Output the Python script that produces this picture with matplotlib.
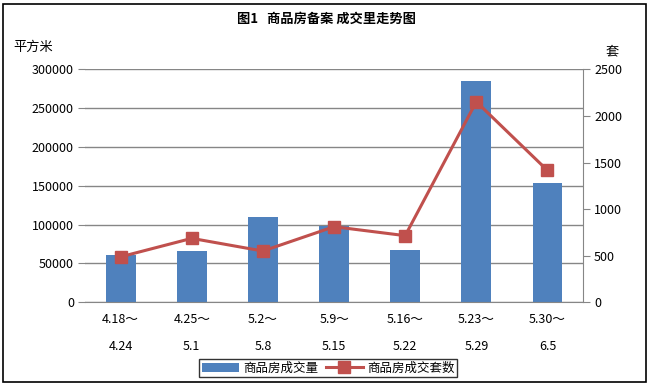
import numpy as np
import matplotlib.pyplot as plt
from matplotlib.patches import Rectangle

plt.rcParams['font.family'] = ['Noto Sans CJK SC', 'DejaVu Sans']

# ---------------------- 数据 ----------------------
weeks_start = ["4.18～", "4.25～", "5.2～", "5.9～", "5.16～", "5.23～", "5.30～"]
weeks_end = ["4.24", "5.1", "5.8", "5.15", "5.22", "5.29", "6.5"]
area = [60800, 66000, 110300, 98700, 67200, 284500, 153900]   # 商品房成交量 (平方米)
units = [488, 686, 550, 811, 715, 2152, 1415]                  # 商品房成交套数 (套)

bar_color = "#4F81BD"
line_color = "#C0504D"
grid_color = "#868686"

# ---------------------- 画图 ----------------------
fig = plt.figure(figsize=(6.52, 3.87), dpi=100)
ax = fig.add_axes([0.1304, 0.2189, 0.7638, 0.602])
ax2 = ax.twinx()

x = np.arange(len(area))
ax.bar(x, area, width=0.42, color=bar_color, zorder=2, label="商品房成交量")
ax2.plot(x, units, color=line_color, lw=2.2, marker="s", ms=8,
         mfc=line_color, mec=line_color, zorder=3, label="商品房成交套数")

ax.set_xlim(-0.5, len(area) - 0.5)
ax.set_ylim(0, 300000)
ax2.set_ylim(0, 2500)
ax.set_yticks(np.arange(0, 300001, 50000))
ax2.set_yticks(np.arange(0, 2501, 500))
ax.yaxis.grid(True, color=grid_color, lw=1)
ax.set_axisbelow(True)

ax.set_xticks(x)
ax.set_xticklabels([a + "\n" + b for a, b in zip(weeks_start, weeks_end)],
                   fontsize=9, linespacing=2.4)
ax.tick_params(axis="x", length=0, pad=8)
ax.tick_params(axis="y", labelsize=9, color=grid_color, length=5, pad=3)
ax2.tick_params(axis="y", labelsize=9, color=grid_color, length=5, pad=3)

for s in ["top", "left", "right"]:
    ax.spines[s].set_visible(False)
    ax2.spines[s].set_visible(False)
ax.spines["bottom"].set_color(grid_color)
ax2.spines["bottom"].set_visible(False)
ax2.spines["right"].set_visible(True)
ax2.spines["right"].set_color(grid_color)

fig.text(0.5, 1 - 19 / 387, "图1   商品房备案 成交里走势图", ha="center", va="center",
         fontsize=9.5, fontweight="bold")
fig.text(13 / 652, 1 - 47 / 387, "平方米", ha="left", va="center", fontsize=9.5)
fig.text(612 / 652, 1 - 52 / 387, "套", ha="center", va="center", fontsize=9.5)

h1, l1 = ax.get_legend_handles_labels()
h2, l2 = ax2.get_legend_handles_labels()
leg = fig.legend(h1 + h2, l1 + l2, loc="center", bbox_to_anchor=(328 / 652, 1 - 368 / 387),
                 ncol=2, fontsize=9, frameon=True, fancybox=False, borderpad=0.2,
                 handlelength=3, columnspacing=0.6, handletextpad=0.3, borderaxespad=0)
leg.get_frame().set_edgecolor("black")
leg.get_frame().set_linewidth(1)

fig.patches.append(Rectangle((3 / 652, 1 - 382 / 387), 643 / 652, 378 / 387,
                             transform=fig.transFigure, fill=False, ec="black", lw=1.2))

plt.savefig("out.png", dpi=100)
